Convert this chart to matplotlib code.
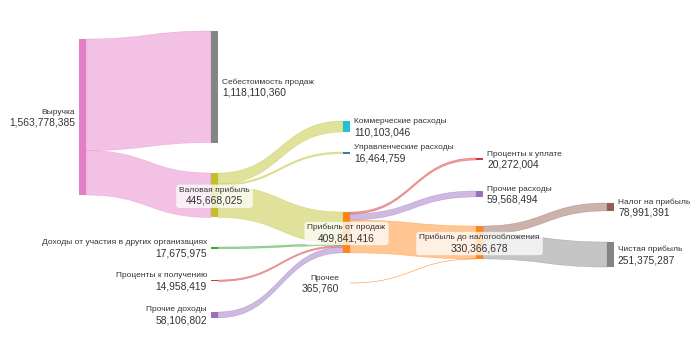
import matplotlib
matplotlib.use('Agg')
import matplotlib.pyplot as plt
from matplotlib.path import Path
from matplotlib.patches import PathPatch, Rectangle, FancyBboxPatch
from matplotlib.transforms import Bbox

# ---------------- data ----------------
node_labels = ['Выручка', 'Себестоимость продаж', 'Валовая прибыль',
               'Коммерческие расходы', 'Управленческие расходы', 'Прибыль от продаж',
               'Доходы от участия в других организациях', 'Проценты к получению',
               'Прочие доходы', 'Проценты к уплате', 'Прочие расходы',
               'Прибыль до налогообложения', 'Прочее', 'Налог на прибыль', 'Чистая прибыль']
node_values = [1563778385, 1118110360, 445668025, 110103046, 16464759, 409841416,
               17675975, 14958419, 58106802, 20272004, 59568494, 330366678,
               365760, 78991391, 251375287]
link_source = [0, 0, 2, 2, 2, 6, 7, 8, 5, 5, 5, 12, 11, 11]
link_target = [1, 2, 3, 4, 5, 5, 5, 5, 9, 10, 11, 11, 13, 14]
link_value = [1118110360, 445668025, 110103046, 16464759, 319100220, 17675975,
              14958419, 58106802, 20272004, 59568494, 330000918, 365760,
              78991391, 251375287]

# ---------------- layout / style ----------------
node_col = [0, 1, 1, 2, 2, 2, 1, 1, 1, 3, 3, 3, 2, 4, 4]
node_top = [39, 31, 173, 121, 152, 212, 247, 280, 312, 158, 191, 226, 283, 203, 242]
col_x = [79, 211, 343, 476, 607]
node_w = 7
scale = 156.0 / 1563778385
label_side = ['left', 'right', 'center', 'right', 'right', 'center', 'left', 'left',
              'left', 'right', 'right', 'center', 'left', 'right', 'right']
node_colors = ['#e377c2', '#7f7f7f', '#bcbd22', '#17becf', '#1f77b4', '#ff7f0e',
               '#2ca02c', '#d62728', '#9467bd', '#d62728', '#9467bd', '#ff7f0e',
               '#e377c2', '#8c564b', '#7f7f7f']
link_colors = ['#e377c2', '#e377c2', '#bcbd22', '#bcbd22', '#bcbd22', '#2ca02c',
               '#d62728', '#9467bd', '#d62728', '#9467bd', '#ff7f0e', '#ff7f0e',
               '#8c564b', '#7f7f7f']
link_alpha = 0.45

plt.rcParams['font.family'] = ['Liberation Sans', 'DejaVu Sans']

fig = plt.figure(figsize=(7, 3.5), dpi=100)
ax = fig.add_axes([0, 0, 1, 1])
ax.set_xlim(0, 700)
ax.set_ylim(350, 0)
ax.axis('off')

n = len(node_labels)
in_sum = [0] * n
out_sum = [0] * n
for s, t, v in zip(link_source, link_target, link_value):
    out_sum[s] += v
    in_sum[t] += v
node_h = [max(in_sum[i], out_sum[i], 1) * scale for i in range(n)]
node_x = [col_x[c] for c in node_col]

out_off = list(node_top)
in_off = list(node_top)

# links
for s, t, v, c in zip(link_source, link_target, link_value, link_colors):
    h = v * scale
    x0 = node_x[s] + node_w
    x1 = node_x[t]
    y0a = out_off[s]; y0b = y0a + h
    y1a = in_off[t]; y1b = y1a + h
    out_off[s] += h
    in_off[t] += h
    xm = (x0 + x1) / 2
    verts = [(x0, y0a), (xm, y0a), (xm, y1a), (x1, y1a), (x1, y1b),
             (xm, y1b), (xm, y0b), (x0, y0b), (x0, y0a)]
    codes = [Path.MOVETO, Path.CURVE4, Path.CURVE4, Path.CURVE4, Path.LINETO,
             Path.CURVE4, Path.CURVE4, Path.CURVE4, Path.CLOSEPOLY]
    ax.add_patch(PathPatch(Path(verts, codes), facecolor=c, edgecolor=c,
                           lw=0.4, alpha=link_alpha, zorder=1))

# nodes
for i in range(n):
    ax.add_patch(Rectangle((node_x[i], node_top[i]), node_w, max(node_h[i], 0.3),
                           facecolor=node_colors[i], edgecolor='none', alpha=0.95, zorder=2))

# labels
name_fs = 6.0
num_fs = 7.4
txt_color = '#333333'
center_texts = []
for i in range(n):
    cy = node_top[i] + node_h[i] / 2
    side = label_side[i]
    if side == 'right':
        x = node_x[i] + node_w + 4
        ha = 'left'
    elif side == 'left':
        x = node_x[i] - 4
        ha = 'right'
    else:
        x = node_x[i] + node_w / 2
        ha = 'center'
    t1 = ax.text(x, cy - 4.9, node_labels[i], ha=ha, va='center', fontsize=name_fs,
                 color=txt_color, zorder=5)
    t2 = ax.text(x, cy + 5.7, f"{node_values[i]:,}", ha=ha, va='center', fontsize=num_fs,
                 color=txt_color, zorder=5)
    if side == 'center':
        center_texts.append((t1, t2))

fig.canvas.draw()
r = fig.canvas.get_renderer()
inv = ax.transData.inverted()
for t1, t2 in center_texts:
    bb = Bbox.union([t1.get_window_extent(r), t2.get_window_extent(r)])
    (xa, ya), (xb, yb) = inv.transform([[bb.x0, bb.y0], [bb.x1, bb.y1]])
    x0, x1 = min(xa, xb), max(xa, xb)
    y0, y1 = min(ya, yb), max(ya, yb)
    pad = 3
    ax.add_patch(FancyBboxPatch((x0 - pad, y0 - pad + 1), x1 - x0 + 2 * pad, y1 - y0 + 2 * pad - 2,
                                boxstyle='round,pad=0,rounding_size=3',
                                facecolor='white', edgecolor='none', alpha=0.75, zorder=4))

fig.savefig('out.png', dpi=100)
